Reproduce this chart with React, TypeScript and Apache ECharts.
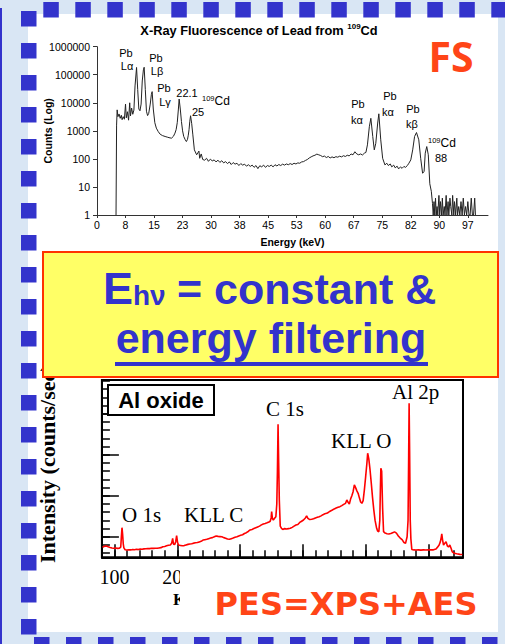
import React, { useEffect, useRef } from 'react';
import * as echarts from 'echarts';

// ---------- Top chart: X-Ray fluorescence spectrum [energy keV, counts] ----------
const XRF_SPECTRUM: [number, number][] = [
  [5.0, 1], [5.1, 1], [5.15, 1600], [5.3, 5600], [5.5, 3200], [5.8, 4000], [6.1, 2800], [6.4, 3600],
  [6.6, 2500], [6.9, 3200], [7.2, 2600], [7.5, 9000], [7.7, 2900], [8.0, 4800], [8.3, 2400], [8.6, 10000],
  [8.8, 3400], [9.1, 6500], [9.4, 3900], [9.7, 5500], [10.0, 40000], [10.4, 182000], [10.7, 30000],
  [11.0, 6000], [11.3, 5200], [11.6, 9000], [11.9, 60000], [12.2, 150000], [12.4, 185000], [12.7, 30000],
  [13.0, 5000], [13.3, 3500], [13.6, 4200], [14.0, 9000], [14.3, 20000], [14.5, 25000], [14.8, 6000],
  [15.2, 1950], [15.6, 1250], [16.1, 940], [16.6, 760], [17.2, 680], [17.9, 630], [18.6, 590], [19.2, 560],
  [19.6, 550], [20.1, 640], [20.5, 830], [20.8, 1100], [21.1, 1950], [21.4, 6000], [21.6, 13600],
  [21.9, 6000], [22.2, 2150], [22.5, 1000], [22.8, 630], [23.2, 480], [23.5, 415], [23.8, 500], [24.0, 700],
  [24.2, 1100], [24.4, 2200], [24.6, 3450], [24.9, 1800], [25.2, 720], [25.6, 210], [26.2, 140], [26.8, 190],
  [27.0, 105], [27.4, 150], [27.8, 95], [28.3, 90], [28.8, 105], [29.3, 82], [29.8, 98], [30.3, 85],
  [30.8, 92], [31.3, 78], [31.8, 90], [32.3, 75], [32.8, 86], [33.3, 72], [33.8, 80], [34.3, 68], [34.8, 78],
  [35.3, 63], [35.8, 74], [36.3, 65], [36.8, 70], [37.3, 58], [37.8, 68], [38.3, 60], [38.8, 65], [39.3, 55],
  [39.8, 62], [40.3, 54], [40.8, 60], [41.3, 50], [41.8, 58], [42.3, 45], [42.8, 57], [43.3, 52], [43.8, 60],
  [44.3, 50], [44.8, 58], [45.3, 54], [45.8, 60], [46.3, 52], [46.8, 62], [47.3, 56], [47.8, 63], [48.3, 58],
  [48.8, 65], [49.3, 60], [49.8, 66], [50.3, 62], [50.8, 68], [51.3, 63], [51.8, 70], [52.3, 66], [52.8, 72],
  [53.3, 70], [53.8, 78], [54.3, 80], [54.8, 88], [55.3, 95], [55.8, 108], [56.3, 118], [56.8, 128],
  [57.3, 135], [57.8, 148], [58.3, 140], [58.8, 132], [59.3, 120], [59.8, 126], [60.3, 112], [60.8, 122],
  [61.3, 108], [61.8, 118], [62.3, 110], [62.8, 120], [63.3, 115], [63.8, 125], [64.3, 118], [64.8, 130],
  [65.3, 122], [65.8, 135], [66.3, 128], [66.8, 150], [67.3, 140], [67.8, 180], [68.3, 150], [68.8, 140],
  [69.3, 150], [69.8, 138], [70.3, 160], [70.7, 170], [71.1, 316], [71.6, 1400], [72.0, 2800], [72.5, 630],
  [72.9, 210], [73.3, 360], [73.8, 1900], [74.1, 4050], [74.6, 480], [75.1, 105], [75.7, 61], [76.2, 70],
  [76.6, 58], [77.1, 66], [77.5, 52], [78.0, 60], [78.4, 48], [78.9, 55], [79.3, 44], [79.8, 52], [80.2, 46],
  [80.7, 54], [81.1, 50], [81.6, 58], [82.0, 70], [82.5, 92], [83.0, 210], [83.5, 630], [84.0, 870],
  [84.6, 480], [85.1, 105], [85.6, 31], [86.0, 35], [86.3, 160], [86.7, 275], [87.1, 140], [87.5, 13],
  [87.9, 7], [88.2, 2.6], [88.4, 1], [88.6, 3], [88.8, 1], [89.0, 4], [89.2, 1], [89.4, 2], [89.6, 1],
  [89.9, 5], [90.1, 1], [90.3, 3], [90.6, 1], [90.8, 4], [91.0, 1], [91.3, 2], [91.5, 1], [91.8, 5], [92.0, 1],
  [92.3, 3], [92.5, 1], [92.8, 4], [93.0, 2], [93.3, 1], [93.5, 5], [93.8, 1], [94.0, 3], [94.3, 1], [94.6, 4],
  [94.8, 1], [95.1, 2], [95.4, 1], [95.7, 3], [96.0, 1], [96.3, 4], [96.6, 1], [96.9, 2], [97.2, 1], [97.5, 3],
  [97.8, 1], [98.1, 1], [98.4, 4], [98.7, 1], [99.0, 1], [99.3, 4], [99.5, 1],
];
const XRF_X_STEP = 7.5;
const XRF_X_TICK_LABELS = ['0', '8', '15', '23', '30', '38', '45', '53', '60', '67', '75', '82', '90', '97'];
const XRF_Y_TICK_LABELS = ['1', '10', '100', '1000', '10000', '100000', '1000000'];

// ---------- Bottom chart: Al oxide photoelectron spectrum [energy eV, counts/sec] ----------
const XPS_SPECTRUM: [number, number][] = [
  [81, 245], [84, 270], [87, 276], [90, 255], [93, 240], [96, 228], [99, 220], [102, 228], [105, 218],
  [108, 222], [110, 250], [111, 500], [112, 722], [113, 560], [114, 330], [115, 230], [117, 185], [120, 178],
  [123, 185], [126, 180], [129, 190], [132, 185], [135, 195], [138, 188], [141, 200], [144, 195], [147, 205],
  [150, 210], [153, 215], [156, 212], [159, 220], [162, 218], [165, 222], [168, 220], [171, 228], [174, 235],
  [177, 258], [180, 265], [183, 280], [186, 295], [189, 300], [191, 340], [192.7, 463], [194, 320], [196, 310],
  [197.5, 380], [199, 528], [200.5, 360], [202, 300], [205, 290], [208, 280], [211, 285], [214, 300],
  [217, 315], [220, 325], [223, 330], [226, 345], [229, 355], [232, 360], [235, 375], [238, 390], [241, 420],
  [244, 430], [247, 440], [250, 455], [253, 470], [256, 480], [259, 500], [262, 520], [265, 510], [268, 505],
  [271, 500], [274, 480], [277, 465], [280, 445], [283, 440], [286, 455], [289, 470], [292, 490], [295, 500],
  [298, 520], [301, 535], [304, 550], [307, 580], [310, 600], [313, 630], [316, 667], [319, 680], [322, 700],
  [325, 720], [328, 740], [331, 760], [334, 790], [337, 813], [340, 825], [343, 840], [346, 860], [348, 880],
  [349.5, 960], [350.3, 1113], [351.5, 950], [353, 910], [355, 950], [357, 990], [358.5, 1300], [359.5, 2100],
  [360.5, 3245], [361.5, 2300], [362.5, 1398], [364, 760], [366, 707], [368, 680], [371, 700], [374, 690],
  [377, 700], [380, 707], [383, 730], [386, 760], [389, 788], [392, 800], [395, 850], [398, 880], [401, 910],
  [404, 960], [406, 1008], [408, 950], [411, 920], [414, 926], [417, 940], [420, 960], [423, 975], [426, 990],
  [429, 1010], [432, 1040], [435, 1060], [438, 1072], [441, 1100], [444, 1130], [447, 1154], [450, 1180],
  [453, 1200], [456, 1220], [459, 1235], [462, 1260], [465, 1290], [468, 1316], [470, 1398], [472, 1340],
  [474, 1300], [476, 1420], [478, 1500], [480, 1600], [482, 1764], [484, 1700], [486, 1620], [488, 1560],
  [490, 1450], [492, 1350], [494, 1316], [496, 1380], [498, 1650], [500, 1967], [502, 2300], [503.2, 2537],
  [505, 2400], [507, 2130], [509, 1800], [511, 1450], [513, 1150], [515, 900], [517.5, 707], [519, 640],
  [521, 625], [522.5, 900], [523.5, 1700], [524.2, 2171], [525.5, 2100], [527, 1200], [528.5, 625], [531, 590],
  [534, 575], [537, 569], [540, 580], [543, 600], [546, 620], [549, 590], [552, 520], [555, 470], [558, 430],
  [561, 360], [563.5, 341], [566, 500], [567.5, 900], [568.5, 2500], [569.2, 3757], [570, 2600], [571, 900],
  [572, 450], [573.5, 190], [577, 180], [580, 178], [584, 182], [588, 175], [592, 180], [596, 178], [600, 185],
  [604, 180], [608, 182], [612, 200], [615, 260], [617, 300], [619, 382], [620.5, 500], [621.2, 569],
  [622.5, 420], [624, 300], [626, 340], [628, 382], [630, 280], [632, 250], [634, 300], [636, 220], [638, 130],
  [641, 97], [645, 85], [650, 72], [654, 70],
];
const XPS_X_MAJOR = [100, 200, 300, 400, 500, 600];
const XPS_X_LABELS = [100, 200];
const XPS_Y_MINOR = [100, 300, 500, 700, 900, 1100, 1300, 1500, 1700, 1900, 2100, 2300, 2500, 2700, 2900, 3100, 3300, 3500, 3700, 3900, 4100, 4300];
const XPS_Y_MAJOR = [500, 1500, 2500, 3500];

const BLUE = '#3333cc';
const ORANGE = '#ff4517';
const SANS = 'Liberation Sans, Arial, sans-serif';
const SERIF = 'Liberation Serif, Times New Roman, serif';

function txt(x: number, y: number, text: string, o: any = {}) {
  return {
    type: 'text', x, y, z: o.z ?? 10, rotation: o.rotation ?? 0,
    style: {
      text, fill: o.fill ?? '#000', fontSize: o.size ?? 11, fontFamily: o.family ?? SANS,
      fontWeight: o.weight ?? 'normal', align: o.align ?? 'center', textAlign: o.align ?? 'center',
      verticalAlign: 'middle', textVerticalAlign: 'middle', rich: o.rich,
    },
  };
}

function buildOption() {
  const g: any[] = [];
  // white panel and frame decoration
  g.push({ type: 'rect', z: -3, shape: { x: 28, y: 14, width: 470, height: 618 }, style: { fill: '#ffffff' } });
  g.push({ type: 'rect', z: -2, shape: { x: 0, y: 8, width: 2, height: 636 }, style: { fill: BLUE } });
  for (let k = 0; k < 15; k++) g.push({ type: 'rect', z: -2, shape: { x: 43.3 + 32 * k, y: 2, width: 15.5, height: 15.5 }, style: { fill: BLUE } });
  for (let k = 0; k < 20; k++) g.push({ type: 'rect', z: -2, shape: { x: 21, y: 11 + 32 * k, width: 15.5, height: 15.5 }, style: { fill: BLUE } });
  for (let k = 0; k < 15; k++) g.push({ type: 'rect', z: -2, shape: { x: 34 + 32 * k, y: 637, width: 15.5, height: 15.5 }, style: { fill: BLUE } });

  // top chart title and annotations
  const supRich = {
    a: { fontSize: 12.8, fontWeight: 'bold', fontFamily: SANS, lineHeight: 15, verticalAlign: 'middle' },
    s: { fontSize: 8, fontWeight: 'bold', fontFamily: SANS, lineHeight: 8, verticalAlign: 'top' },
  };
  g.push(txt(259, 30, '{a|X-Ray Fluorescence of Lead from }{s|109}{a|Cd}', { rich: supRich }));
  const annRich = {
    a: { fontSize: 12, fontFamily: SANS, lineHeight: 14, verticalAlign: 'middle' },
    s: { fontSize: 7.5, fontFamily: SANS, lineHeight: 8, verticalAlign: 'top' },
  };
  g.push(txt(126, 53, 'Pb'), txt(127, 66, 'Lα'));
  g.push(txt(156, 58, 'Pb'), txt(157, 71, 'Lβ'));
  g.push(txt(164, 88, 'Pb'), txt(165, 102, 'Lγ'));
  g.push(txt(187, 93, '22.1'), txt(202, 101, '{s|109}{a|Cd}', { rich: annRich, align: 'left' }), txt(198, 112, '25'));
  g.push(txt(358, 104, 'Pb'), txt(357, 120, 'kα'));
  g.push(txt(390, 96, 'Pb'), txt(388, 112, 'kα'));
  g.push(txt(413, 109, 'Pb'), txt(412, 124, 'kβ'));
  g.push(txt(428, 143, '{s|109}{a|Cd}', { rich: annRich, align: 'left' }), txt(441, 158, '88'));
  g.push(txt(451, 56, 'FS', { size: 41, family: 'Open Sans', weight: 'bold', fill: ORANGE }));

  // bottom chart decorations
  g.push({ type: 'rect', z: 10, shape: { x: 108, y: 385, width: 106, height: 30 }, style: { fill: '#fff', stroke: '#000', lineWidth: 2 } });
  g.push(txt(161, 400, 'Al oxide', { size: 22, weight: 'bold', z: 11 }));
  g.push(txt(122, 515, 'O 1s', { size: 21, family: SERIF, align: 'left' }));
  g.push(txt(184, 515, 'KLL C', { size: 21, family: SERIF, align: 'left' }));
  g.push(txt(266, 409, 'C 1s', { size: 21, family: SERIF, align: 'left' }));
  g.push(txt(331, 441, 'KLL O', { size: 21, family: SERIF, align: 'left' }));
  g.push(txt(392, 392, 'Al 2p', { size: 21, family: SERIF, align: 'left' }));
  g.push(txt(47, 563, 'Intensity (counts/sec)', { size: 22, family: SERIF, weight: 'bold', align: 'left', rotation: Math.PI / 2, z: 5 }));
  g.push(txt(173, 599.5, 'K', { size: 17, family: SERIF, weight: 'bold', align: 'left', z: 5 }));
  g.push({ type: 'rect', z: 50, shape: { x: 180, y: 561, width: 318, height: 71 }, style: { fill: '#ffffff' } });
  g.push(txt(346, 604, 'PES=XPS+AES', { size: 32, family: 'DejaVu Sans', weight: 'bold', fill: ORANGE, z: 60 }));

  // yellow box
  g.push({ type: 'rect', z: 100, shape: { x: 43, y: 252, width: 455, height: 125 }, style: { fill: '#ffff66', stroke: '#ff3300', lineWidth: 2 } });
  g.push(txt(103, 288.4, 'E', { size: 45, weight: 'bold', fill: BLUE, align: 'left', z: 101 }));
  g.push(txt(133, 295.3, 'hν', { size: 28, weight: 'bold', fill: BLUE, align: 'left', z: 101 }));
  g.push(txt(177, 289.1, '= constant &', { size: 43, weight: 'bold', fill: BLUE, align: 'left', z: 101 }));
  g.push(txt(271, 338.1, 'energy filtering', { size: 43, weight: 'bold', fill: BLUE, z: 101 }));
  g.push({ type: 'rect', z: 101, shape: { x: 115, y: 362, width: 313, height: 4 }, style: { fill: BLUE } });

  return {
    animation: false,
    backgroundColor: '#d9e6f4',
    grid: [
      { left: 97, top: 46.7, width: 391, height: 168.3, show: false },
      { left: 101.9, top: 380, width: 361.1, height: 177.3, show: true, borderColor: '#000', borderWidth: 2, backgroundColor: 'transparent' },
    ],
    xAxis: [
      {
        gridIndex: 0, type: 'value', position: 'bottom', min: 0, max: 102.8, interval: XRF_X_STEP,
        axisLine: { show: true, lineStyle: { color: '#333', width: 1 } },
        axisTick: { show: true, length: 3, lineStyle: { color: '#333' } },
        splitLine: { show: false },
        axisLabel: {
          fontSize: 10.5, fontFamily: SANS, color: '#000', margin: 4, showMaxLabel: false,
          formatter: (v: number) => {
            const i = Math.round(v / XRF_X_STEP);
            return Math.abs(v - i * XRF_X_STEP) < 1e-6 && XRF_X_TICK_LABELS[i] !== undefined ? XRF_X_TICK_LABELS[i] : '';
          },
        },
        name: 'Energy (keV)', nameLocation: 'middle', nameGap: 21, nameMoveOverlap: false,
        nameTextStyle: { fontSize: 10.5, fontWeight: 'bold', fontFamily: SANS, color: '#000' },
      },
      {
        gridIndex: 1, type: 'value', position: 'bottom', min: 80, max: 655, interval: 20,
        axisLine: { show: true, lineStyle: { color: '#000', width: 2 } },
        axisTick: { show: true, inside: true, length: 7, lineStyle: { color: '#000', width: 1.5 } },
        axisLabel: { show: false }, splitLine: { show: false },
      },
      {
        gridIndex: 1, type: 'value', position: 'bottom', offset: 0, min: 80, max: 655,
        axisLine: { show: false },
        axisTick: { show: true, inside: true, length: 13, customValues: XPS_X_MAJOR, lineStyle: { color: '#000', width: 1.5 } },
        axisLabel: { show: true, customValues: XPS_X_LABELS, fontSize: 20, fontFamily: SERIF, color: '#000', margin: 10 },
        splitLine: { show: false },
      },
    ],
    yAxis: [
      {
        gridIndex: 0, type: 'log', position: 'left', logBase: 10, min: 1, max: 1000000,
        axisLine: { show: true, lineStyle: { color: '#333', width: 1 } },
        axisTick: { show: true, length: 4, lineStyle: { color: '#333' } },
        splitLine: { show: false }, minorTick: { show: false },
        axisLabel: {
          fontSize: 10.5, fontFamily: SANS, color: '#000', margin: 7,
          formatter: (v: number) => XRF_Y_TICK_LABELS[Math.round(Math.log10(v))] ?? '',
        },
        name: 'Counts (Log)', nameLocation: 'middle', nameGap: 44, nameRotate: 90, nameMoveOverlap: false,
        nameTextStyle: { fontSize: 10.5, fontWeight: 'bold', fontFamily: SANS, color: '#000' },
      },
      {
        gridIndex: 1, type: 'value', position: 'left', min: 0, max: 4324,
        axisLine: { show: true, lineStyle: { color: '#000', width: 2 } },
        axisTick: { show: true, inside: true, length: 8, customValues: XPS_Y_MINOR, lineStyle: { color: '#000', width: 1.5 } },
        axisLabel: { show: false }, splitLine: { show: false },
      },
      {
        gridIndex: 1, type: 'value', position: 'left', offset: 0, min: 0, max: 4324,
        axisLine: { show: false },
        axisTick: { show: true, inside: true, length: 17, customValues: XPS_Y_MAJOR, lineStyle: { color: '#000', width: 1.5 } },
        axisLabel: { show: false }, splitLine: { show: false },
      },
    ],
    series: [
      {
        type: 'line', xAxisIndex: 0, yAxisIndex: 0, data: XRF_SPECTRUM, showSymbol: false, symbol: 'none',
        lineStyle: { color: '#222', width: 1 }, z: 3,
      },
      {
        type: 'line', xAxisIndex: 1, yAxisIndex: 1, data: XPS_SPECTRUM, showSymbol: false, symbol: 'none',
        lineStyle: { color: '#ff0000', width: 1.6 }, z: 3,
      },
    ],
    graphic: { elements: g },
  };
}

export default function App() {
  const ref = useRef<HTMLDivElement>(null);
  useEffect(() => {
    document.body.style.margin = '0';
    const chart = echarts.init(ref.current!, null, { renderer: 'svg', width: 505, height: 644 });
    chart.setOption(buildOption() as any);
    return () => chart.dispose();
  }, []);
  return <div ref={ref} style={{ position: 'absolute', left: 0, top: 0, width: 505, height: 644 }} />;
}
